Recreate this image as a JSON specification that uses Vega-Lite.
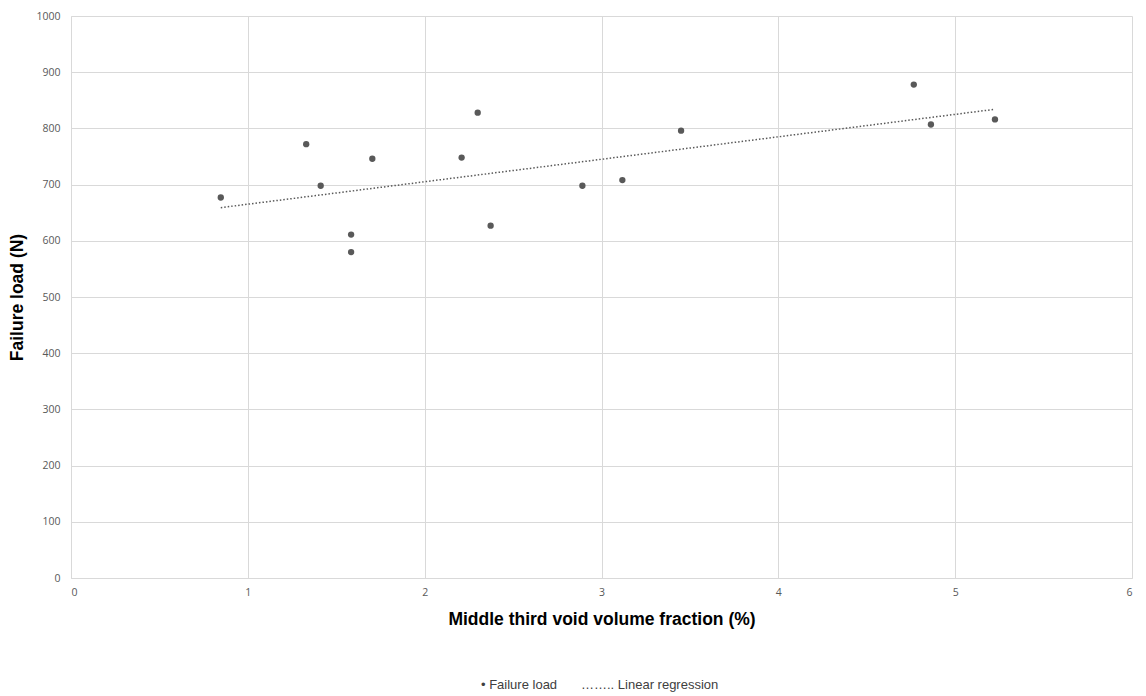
{
  "$schema": "https://vega.github.io/schema/vega-lite/v6.json",
  "width": 1061,
  "height": 562,
  "autosize": "none",
  "padding": {"left": 71, "top": 16, "right": 14, "bottom": 118},
  "background": "white",
  "datasets": {
    "points": [
      {"fraction": 0.847, "load": 677},
      {"fraction": 1.33, "load": 772},
      {"fraction": 1.412, "load": 698},
      {"fraction": 1.584, "load": 611},
      {"fraction": 1.584, "load": 580},
      {"fraction": 1.704, "load": 746},
      {"fraction": 2.209, "load": 748},
      {"fraction": 2.30, "load": 828},
      {"fraction": 2.373, "load": 627},
      {"fraction": 2.892, "load": 698},
      {"fraction": 3.118, "load": 708},
      {"fraction": 3.45, "load": 796},
      {"fraction": 4.766, "load": 878},
      {"fraction": 4.863, "load": 807},
      {"fraction": 5.225, "load": 816}
    ],
    "fit": [
      {"fraction": 0.847, "load": 659},
      {"fraction": 5.225, "load": 834}
    ]
  },
  "config": {
    "view": {"stroke": null},
    "axis": {
      "gridColor": "#d9d9d9",
      "gridWidth": 1,
      "domainColor": "#d9d9d9",
      "domainWidth": 1,
      "ticks": false,
      "labelFont": "Open Sans",
      "labelFontSize": 10.5,
      "labelColor": "#595959",
      "titleFont": "Liberation Sans",
      "titleFontSize": 17.5,
      "titleFontWeight": "bold",
      "titleColor": "#000000"
    }
  },
  "encoding": {
    "x": {
      "field": "fraction",
      "type": "quantitative",
      "scale": {"domain": [0, 6], "nice": false},
      "axis": {"values": [0, 1, 2, 3, 4, 5, 6], "format": "d", "labelPadding": 9, "titlePadding": 13, "title": "Middle third void volume fraction (%)"}
    },
    "y": {
      "field": "load",
      "type": "quantitative",
      "scale": {"domain": [0, 1000], "nice": false},
      "axis": {"values": [0, 100, 200, 300, 400, 500, 600, 700, 800, 900, 1000], "format": "d", "labelPadding": 11, "titlePadding": 9, "title": "Failure load (N)"}
    }
  },
  "layer": [
    {
      "data": {"name": "fit"},
      "mark": {"type": "line", "strokeDash": [1.5, 2], "strokeWidth": 1.5},
      "encoding": {
        "color": {
          "datum": "Linear regression",
          "type": "nominal",
          "scale": {"domain": ["Failure load", "Linear regression"], "range": ["#595959", "#595959"]},
          "legend": {
            "orient": "none",
            "legendX": 397,
            "legendY": 662,
            "direction": "horizontal",
            "title": null,
            "symbolSize": 0,
            "symbolOpacity": 0,
            "symbolStrokeWidth": 0,
            "labelOffset": 0,
            "columnPadding": 10,
            "labelFont": "Liberation Sans",
            "labelFontSize": 13,
            "labelColor": "#404040",
            "labelExpr": "datum.label == 'Failure load' ? '• Failure load' : '…….. Linear regression'"
          }
        }
      }
    },
    {
      "data": {"name": "points"},
      "mark": {"type": "point", "filled": true, "size": 40, "opacity": 1},
      "encoding": {
        "color": {"datum": "Failure load", "type": "nominal"}
      }
    }
  ]
}
